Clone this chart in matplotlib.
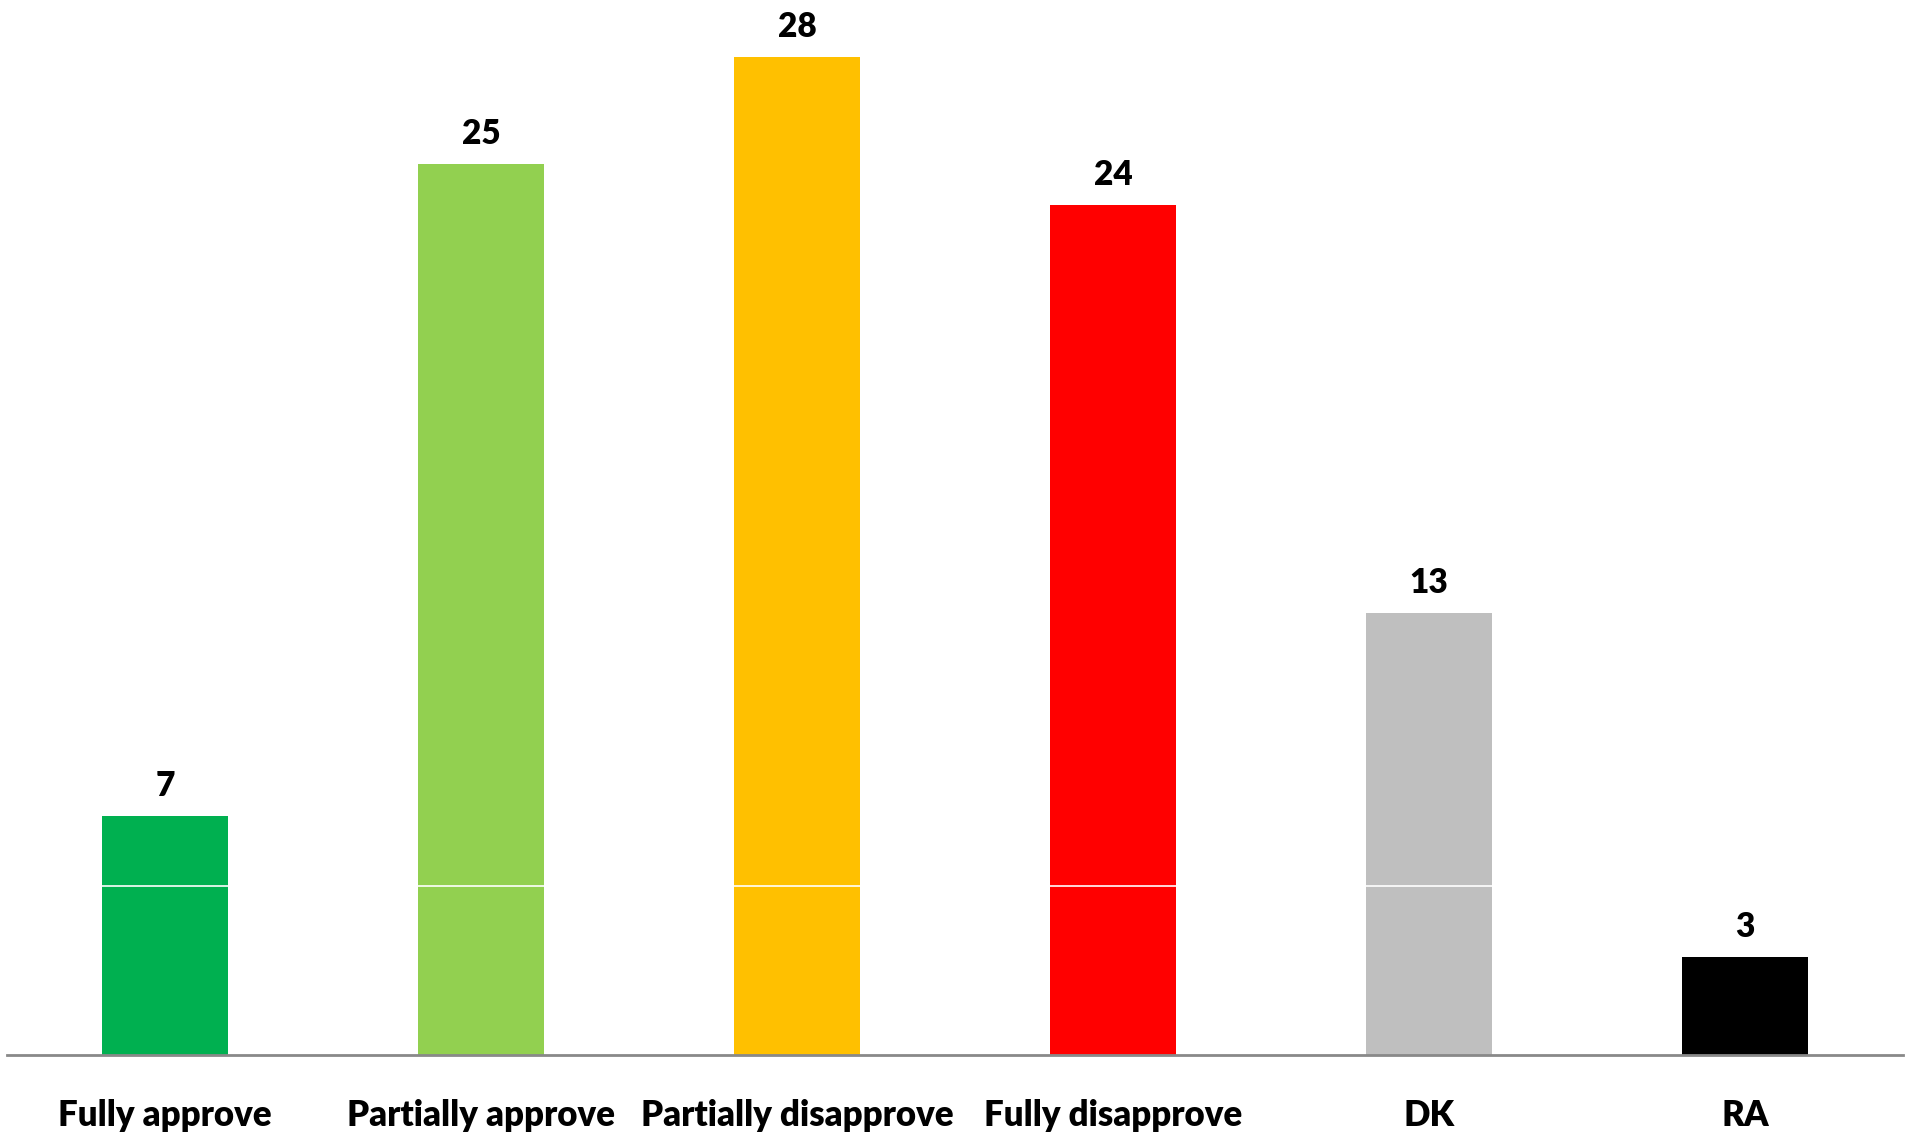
import matplotlib.pyplot as plt

# Kategorijos ir reikšmės
categories = ["Fully approve", "Partially approve", "Partially disapprove",
              "Fully disapprove", "DK", "RA"]
values = [6.7, 25.0, 28.0, 23.85, 12.4, 2.75]
labels = ["7", "25", "28", "24", "13", "3"]
colors = ["#00B050", "#92D050", "#FFC000", "#FF0000", "#BFBFBF", "#000000"]

plt.rcParams['font.family'] = ['Lato', 'DejaVu Sans']

fig = plt.figure(figsize=(19.07, 11.36), dpi=100)
ax = fig.add_axes([7 / 1907, (1136 - 1054.5) / 1136, 1896 / 1907, 1054.5 / 1136])

x = range(len(categories))
bars = ax.bar(x, values, width=0.4, color=colors, zorder=2)

# baltas tinklelio brūkšnys per stulpelius
ax.axhline(4.73, color="white", lw=1.2, zorder=3)

for b, lab in zip(bars, labels):
    ax.annotate(lab, (b.get_x() + b.get_width() / 2, b.get_height()),
                xytext=(0, 30), textcoords="offset pixels",
                ha="center", va="center", fontsize=24, fontweight="heavy")

ax.set_xlim(-0.5, len(categories) - 0.5)
ax.set_ylim(0, 29.6)
ax.set_xticks(list(x))
ax.set_xticklabels(categories, fontsize=25, fontweight="heavy")
ax.tick_params(axis="x", length=0, pad=32)
ax.set_yticks([])
for s in ["top", "left", "right"]:
    ax.spines[s].set_visible(False)
ax.spines["bottom"].set_color("#898989")
ax.spines["bottom"].set_linewidth(2)
ax.spines["bottom"].set_zorder(4)

fig.savefig("out.png", dpi=100)
